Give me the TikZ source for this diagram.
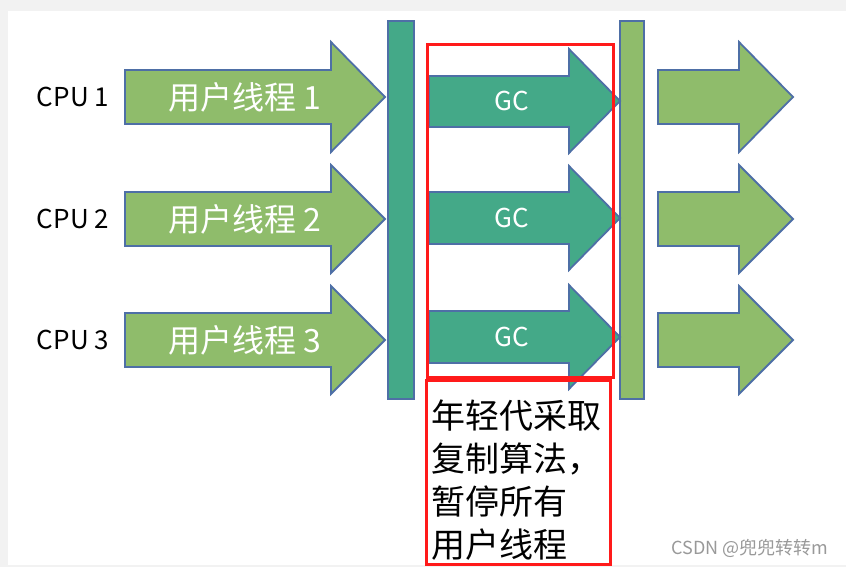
\documentclass[tikz,border=0pt]{standalone}
\usepackage{fontspec}
\newfontfamily\cjk{Noto Sans CJK SC}
\definecolor{edgeblue}{HTML}{4E6FA6}
\definecolor{threadgreen}{HTML}{8FBC6B}
\definecolor{gcteal}{HTML}{44A988}
\definecolor{markred}{HTML}{FF1A1A}
\tikzset{%
	thread/.style={draw=edgeblue,line width=1.8pt,fill=threadgreen}
}
\tikzset{%
	gcthread/.style={draw=edgeblue,line width=1.8pt,fill=gcteal}
}
\tikzset{%
	markbox/.style={draw=markred,line width=3pt}
}
\tikzset{%
	cpulabel/.style={font=\cjk\fontsize{26}{30}\selectfont,text=black,inner sep=0pt},
	threadlabel/.style={font=\cjk\fontsize{32}{36}\selectfont,text=white,inner sep=0pt},
	gclabel/.style={font=\cjk\fontsize{26}{30}\selectfont,text=white,inner sep=0pt}
}

\begin{document}
\begin{tikzpicture}[x=1pt,y=-1pt]
		\useasboundingbox (0,0) rectangle (846,567);
		\fill [black!5] (0,0) rectangle (846,567);
		\fill [white] (8,11) rectangle (846,565);

		%Safepoint bars
		\draw [gcthread] (388,21) rectangle (414,399);
		\draw [thread] (620,21) rectangle (644,399);

		%First row
		\draw [thread] (125,70)--(331,70)--(331,42)--(385,97)--(331,152)--(331,124)--(125,124)--cycle;
		\draw [gcthread] (429,76)--(569,76)--(569,49)--(620,101)--(569,153)--(569,127)--(429,127)--cycle;
		\draw [thread] (658,70)--(739,70)--(739,42)--(793,97)--(739,152)--(739,124)--(658,124)--cycle;
		\node [cpulabel] (cpu1) at (73,97) {CPU 1};
		\node [threadlabel] (user1) at (245,97) {用户线程 1};
		\node [gclabel] (gc1) at (512,101) {GC};

		%Second row
		\draw [thread] (125,192)--(331,192)--(331,165)--(385,219)--(331,273)--(331,246)--(125,246)--cycle;
		\draw [gcthread] (429,192)--(569,192)--(569,166)--(620,218)--(569,270)--(569,244)--(429,244)--cycle;
		\draw [thread] (658,192)--(739,192)--(739,165)--(793,219)--(739,273)--(739,246)--(658,246)--cycle;
		\node [cpulabel] (cpu2) at (73,219) {CPU 2};
		\node [threadlabel] (user2) at (245,219) {用户线程 2};
		\node [gclabel] (gc2) at (512,218) {GC};

		%Third row
		\draw [thread] (125,313)--(331,313)--(331,286)--(385,340)--(331,394)--(331,367)--(125,367)--cycle;
		\draw [gcthread] (429,311)--(569,311)--(569,285)--(620,337)--(569,389)--(569,363)--(429,363)--cycle;
		\draw [thread] (658,313)--(739,313)--(739,286)--(793,340)--(739,394)--(739,367)--(658,367)--cycle;
		\node [cpulabel] (cpu3) at (73,340) {CPU 3};
		\node [threadlabel] (user3) at (245,340) {用户线程 3};
		\node [gclabel] (gc3) at (512,337) {GC};

		%Young generation note
		\draw [markbox] (427,45) rectangle (613,377);
		\draw [markbox] (426,380) rectangle (610,564);
		\node [anchor=north west,inner sep=0pt,align=left,
			font=\cjk\fontsize{34}{43}\selectfont] (note) at (431,400)
			{年轻代采取\\复制算法，\\暂停所有\\用户线程};

		\node [font=\cjk\fontsize{18}{20}\selectfont,text=black!40] (mark) at (750,548) {CSDN @兜兜转转m};
	\end{tikzpicture}
\end{document}
